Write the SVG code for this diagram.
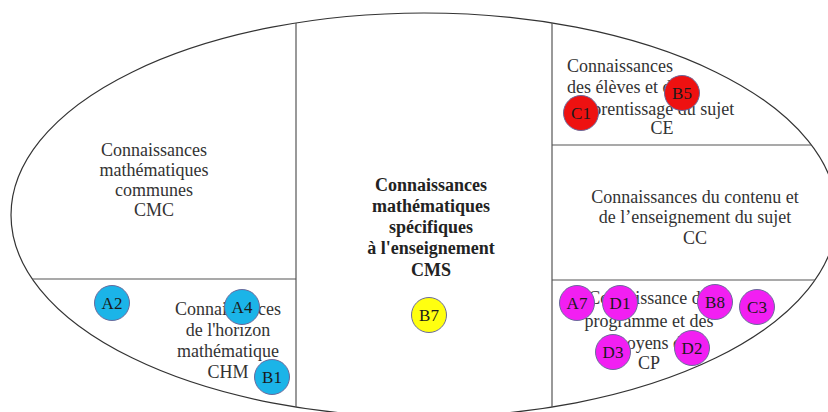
<svg xmlns="http://www.w3.org/2000/svg" width="828" height="412" viewBox="0 0 828 412">
  <style>
    .lbl { font-family: "Liberation Serif", "Times New Roman", serif; font-size: 18px; fill: #333; }
    .mid { text-anchor: middle; }
    .bold { font-weight: bold; fill: #222; }
    .outline { fill: none; stroke: #333; stroke-width: 1.2; }
    .div { stroke: #555; stroke-width: 1.2; fill: none; }
    .dot { stroke: #6a6a9c; stroke-width: 1; }
    .dot-txt { font-family: "Liberation Serif", "Times New Roman", serif; font-size: 17px; fill: #1a1a1a; text-anchor: middle; }
    .blue { fill: #1bb4e8; }
    .red { fill: #ee1111; }
    .mag { fill: #f21ff2; }
    .yel { fill: #ffff10; }
  </style>
  <rect width="828" height="412" fill="#fff"/>

  <!-- outer ellipse -->
  <ellipse id="outline" class="outline" cx="424" cy="215" rx="413" ry="202"/>

  <!-- dividing lines -->
  <g id="dividers">
    <line class="div" x1="296" y1="23" x2="296" y2="407"/>
    <line class="div" x1="552" y1="23" x2="552" y2="407"/>
    <line class="div" x1="32" y1="279" x2="296" y2="279"/>
    <line class="div" x1="552" y1="145" x2="811" y2="145"/>
    <line class="div" x1="552" y1="280" x2="815" y2="280"/>
  </g>

  <!-- regions -->
  <g id="cmc">
    <text class="lbl mid" x="154" y="156">Connaissances</text>
    <text class="lbl mid" x="154" y="176">mathématiques</text>
    <text class="lbl mid" x="154" y="196">communes</text>
    <text class="lbl mid" x="154" y="216">CMC</text>
  </g>
  <g id="chm">
    <text class="lbl mid" x="228" y="315">Connaissances</text>
    <text class="lbl mid" x="228" y="336">de l'horizon</text>
    <text class="lbl mid" x="228" y="357">mathématique</text>
    <text class="lbl mid" x="228" y="378">CHM</text>
  </g>
  <g id="cms">
    <text class="lbl mid bold" x="431" y="191">Connaissances</text>
    <text class="lbl mid bold" x="431" y="212">mathématiques</text>
    <text class="lbl mid bold" x="431" y="233">spécifiques</text>
    <text class="lbl mid bold" x="431" y="254">à l'enseignement</text>
    <text class="lbl mid bold" x="431" y="276">CMS</text>
  </g>
  <g id="ce">
    <text class="lbl" x="567" y="72">Connaissances</text>
    <text class="lbl" x="567" y="93">des élèves et de</text>
    <text class="lbl" x="567" y="115">l'apprentissage du sujet</text>
    <text class="lbl mid" x="662" y="134">CE</text>
  </g>
  <g id="cc">
    <text class="lbl mid" x="695" y="203">Connaissances du contenu et</text>
    <text class="lbl mid" x="695" y="223">de l’enseignement du sujet</text>
    <text class="lbl mid" x="695" y="244">CC</text>
  </g>
  <g id="cp">
    <text class="lbl mid" x="649" y="304">Connaissance du</text>
    <text class="lbl mid" x="649" y="327">programme et des</text>
    <text class="lbl mid" x="649" y="349">moyens d'</text>
    <text class="lbl mid" x="649" y="369">CP</text>
  </g>

  <!-- markers -->
  <g id="A2"><circle class="dot blue" cx="112" cy="303" r="17.5"/><text class="dot-txt" x="112" y="309">A2</text></g>
  <g id="A4"><circle class="dot blue" cx="242" cy="307" r="17.5"/><text class="dot-txt" x="242" y="313">A4</text></g>
  <g id="B1"><circle class="dot blue" cx="272" cy="377" r="17.5"/><text class="dot-txt" x="272" y="383">B1</text></g>
  <g id="B7"><circle class="dot yel" cx="429" cy="315" r="17.5"/><text class="dot-txt" x="429" y="321">B7</text></g>
  <g id="C1"><circle class="dot red" cx="581" cy="113" r="17.5"/><text class="dot-txt" x="581" y="119">C1</text></g>
  <g id="B5"><circle class="dot red" cx="682" cy="93" r="17.5"/><text class="dot-txt" x="682" y="99">B5</text></g>
  <g id="A7"><circle class="dot mag" cx="577" cy="303" r="17.5"/><text class="dot-txt" x="577" y="309">A7</text></g>
  <g id="D1"><circle class="dot mag" cx="620" cy="303" r="17.5"/><text class="dot-txt" x="620" y="309">D1</text></g>
  <g id="B8"><circle class="dot mag" cx="715" cy="302" r="17.5"/><text class="dot-txt" x="715" y="308">B8</text></g>
  <g id="C3"><circle class="dot mag" cx="757" cy="307" r="17.5"/><text class="dot-txt" x="757" y="313">C3</text></g>
  <g id="D3"><circle class="dot mag" cx="613" cy="352" r="17.5"/><text class="dot-txt" x="613" y="358">D3</text></g>
  <g id="D2"><circle class="dot mag" cx="692" cy="348" r="17.5"/><text class="dot-txt" x="692" y="354">D2</text></g>
</svg>
